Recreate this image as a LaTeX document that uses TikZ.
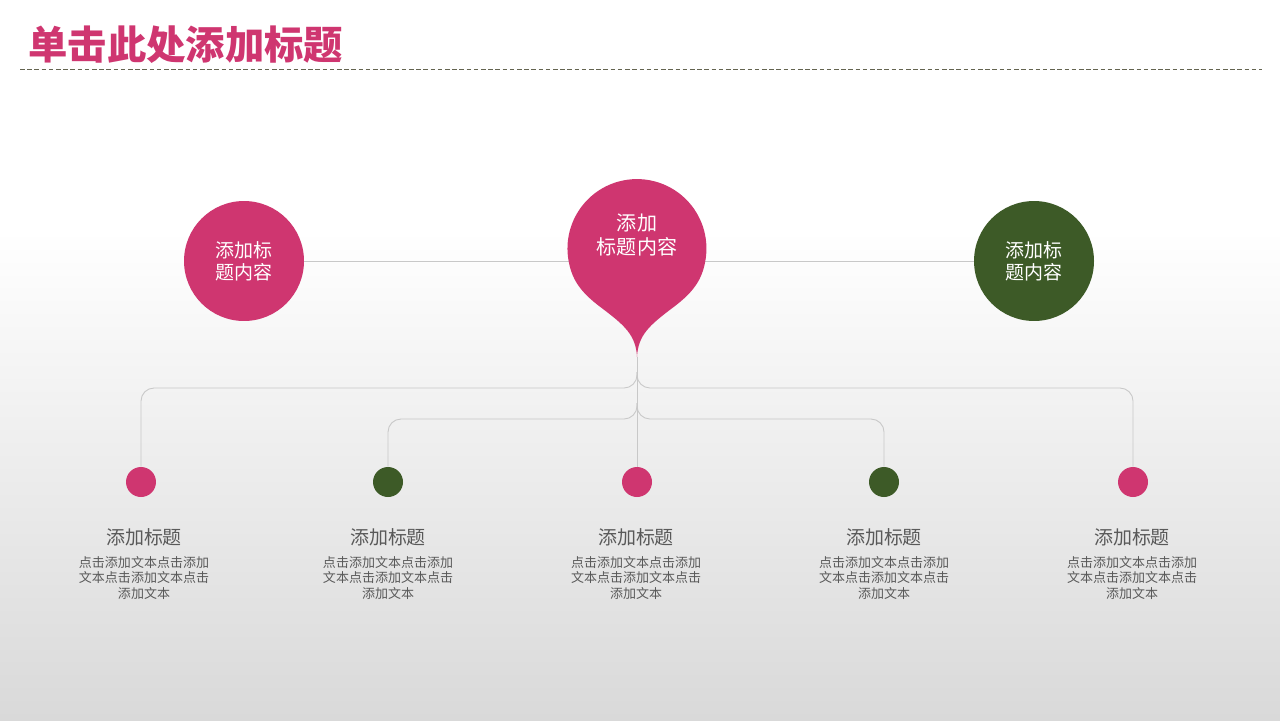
\documentclass[tikz,border=0pt]{standalone}
\usepackage{fontspec}
\newfontfamily\cjk{Noto Sans CJK SC}
\usepackage{xcolor}
\usetikzlibrary{calc,positioning}
\definecolor{rosepink}{RGB}{207,54,112}
\definecolor{mossgreen}{RGB}{61,90,39}
\definecolor{linegray}{RGB}{200,200,200}
\definecolor{textgray}{RGB}{89,89,89}
\definecolor{rulegray}{RGB}{100,100,80}
\definecolor{bggray}{RGB}{217,217,217}
\tikzset{>=latex}
\tikzset{
  bigdot/.style={circle,fill=#1,minimum size=2.4cm,inner sep=0pt,text=white,align=center,font=\cjk\fontsize{10.8}{12.6}\selectfont},
  smalldot/.style={circle,fill=#1,minimum size=0.6cm,inner sep=0pt},
  link/.style={draw=linegray,line width=0.5pt},
  branch/.style={link,rounded corners=0.26cm},
  heading/.style={text=textgray,font=\cjk\fontsize{10.8}{13}\selectfont},
  blurb/.style={text=textgray,align=center,font=\cjk\fontsize{7.4}{9.1}\selectfont},
}
\newcommand{\blurbtext}{点击添加文本点击添加\\文本点击添加文本点击\\添加文本}

\begin{document}
\begin{tikzpicture}[x=0.02cm,y=-0.02cm]
  % Background
  \useasboundingbox (0,0) rectangle (1280,720);
  \fill[white] (0,0) rectangle (1280,230);
  \shade[top color=white,bottom color=bggray] (0,230) rectangle (1280,720);

  % Title
  \node[anchor=west,inner sep=0pt,text=rosepink,font=\cjk\bfseries\fontsize{22.4}{26}\selectfont] (title) at (28,45) {单击此处添加标题};
  \coordinate (r1) at (20,69);
  \coordinate (r2) at (1262,69);
  \draw[rulegray,line width=0.55pt,dash pattern=on 2.6pt off 1.5pt] (r1) -- (r2);

  % Vertices
  \coordinate (tip) at (637,357);
  \coordinate (j1) at (637,372);
  \coordinate (j2) at (637,403);
  \coordinate (c1) at (141,388);
  \coordinate (c2) at (388,419);
  \coordinate (c4) at (884,419);
  \coordinate (c5) at (1133,388);

  \node[bigdot=rosepink] (lc) at (244,261) {添加标\\题内容};
  \node[bigdot=mossgreen] (rc) at (1034,261) {添加标\\题内容};
  \node[smalldot=rosepink] (d1) at (141,482) {};
  \node[smalldot=mossgreen] (d2) at (388,482) {};
  \node[smalldot=rosepink] (d3) at (637,482) {};
  \node[smalldot=mossgreen] (d4) at (884,482) {};
  \node[smalldot=rosepink] (d5) at (1133,482) {};

  % Lines
  \draw[link] (lc) -- (rc);
  \draw[link] (tip) -- (d3);
  \draw[branch] (j1) |- (c1) -- (d1);
  \draw[branch] (j1) |- (c5) -- (d5);
  \draw[branch] (j2) |- (c2) -- (d2);
  \draw[branch] (j2) |- (c4) -- (d4);

  % Drop
  \fill[rosepink] (569,263) arc[start angle=192,end angle=-12,radius=1.39cm]
    .. controls (701,283) and (690,295) .. (671,309)
    .. controls (650,325) and (638,335) .. (tip)
    .. controls (636,335) and (624,325) .. (603,309)
    .. controls (584,295) and (573,283) .. (569,263) -- cycle;
  \node[text=white,align=center,font=\cjk\fontsize{11.4}{14.2}\selectfont] (droptext) at (637,235) {添加\\标题内容};

  % Labels
  \node[heading] (h1) at (144,537) {添加标题};
  \node[heading] (h2) at (388,537) {添加标题};
  \node[heading] (h3) at (636,537) {添加标题};
  \node[heading] (h4) at (884,537) {添加标题};
  \node[heading] (h5) at (1132,537) {添加标题};
  \node[blurb] (b1) at (144,578) {\blurbtext};
  \node[blurb] (b2) at (388,578) {\blurbtext};
  \node[blurb] (b3) at (636,578) {\blurbtext};
  \node[blurb] (b4) at (884,578) {\blurbtext};
  \node[blurb] (b5) at (1132,578) {\blurbtext};
\end{tikzpicture}
\end{document}
